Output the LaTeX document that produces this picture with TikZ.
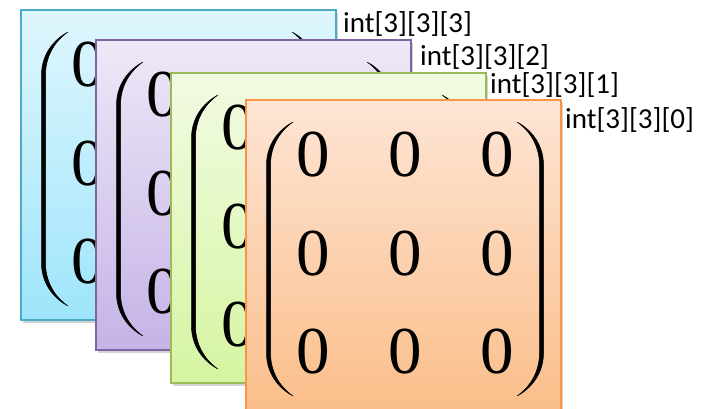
\documentclass[tikz,border=0pt]{standalone}
\usepackage{fontspec}
\newfontfamily\calibri{Carlito}
\newfontfamily\timesf{Liberation Serif}
\usetikzlibrary{shadows,calc}
\tikzset{
  card/.style={anchor=north west, minimum width=315pt, minimum height=310pt,
    line width=1.8pt, inner sep=0pt,
    drop shadow={shadow xshift=2pt, shadow yshift=-3pt, opacity=0.25, fill=black!70}},
  zero/.style={font=\fontsize{67}{67}\selectfont\timesf, inner sep=0pt},
  lbl/.style={font=\fontsize{29}{30}\selectfont\calibri, anchor=base west, inner sep=0pt},
  parenfill/.style={fill=black, draw=black, line width=0.5pt}
}
\newcommand\halfparen{%
  \filldraw[parenfill] (48,23) .. controls (33,31) and (21.5,46) .. (21.5,66)
    -- (21.5,254) .. controls (21.5,274) and (33,289) .. (48,297)
    .. controls (35,288) and (25.5,273) .. (25.5,254)
    -- (25.5,66) .. controls (25.5,47) and (35,32) .. (48,23) -- cycle;}
% #1 card, #2 name prefix, #3 list of visible columns
\newcommand\cardcontent[3]{%
  \begin{scope}[shift={(#1.north west)}]
    \halfparen
    \begin{scope}[xshift=320pt, xscale=-1]\halfparen\end{scope}
    \foreach \r/\yy in {a/56,b/155,c/253}{
      \foreach \c/\xx in {#3}{
        \node[zero] (#2\r\c) at (\xx,\yy) {0};}}
  \end{scope}}
\begin{document}
\begin{tikzpicture}[x=1pt,y=-1pt]
  \useasboundingbox (0,0) rectangle (702,408);
  \node[card, draw={rgb,255:red,75;green,172;blue,198},
        top color={rgb,255:red,223;green,246;blue,253},
        bottom color={rgb,255:red,158;green,229;blue,251}] (c3) at (20,9) {};
  \cardcontent{c3}{t}{1/68}
  \node[card, draw={rgb,255:red,128;green,100;blue,162},
        top color={rgb,255:red,238;green,232;blue,247},
        bottom color={rgb,255:red,197;green,179;blue,230}] (c2) at (95,39) {};
  \cardcontent{c2}{u}{1/68}
  \node[card, draw={rgb,255:red,155;green,187;blue,89},
        top color={rgb,255:red,242;green,251;blue,227},
        bottom color={rgb,255:red,213;green,245;blue,161}] (c1) at (170,72) {};
  \cardcontent{c1}{v}{1/68}
  \node[card, draw={rgb,255:red,247;green,150;blue,70},
        top color={rgb,255:red,253;green,229;blue,213},
        bottom color={rgb,255:red,251;green,190;blue,138}] (c0) at (245,99) {};
  \cardcontent{c0}{w}{1/68,2/160,3/252}
  \node[lbl] (l3) at (343,32) {int[3][3][3]};
  \node[lbl] (l2) at (420,65) {int[3][3][2]};
  \node[lbl] (l1) at (490,93) {int[3][3][1]};
  \node[lbl] (l0) at (565,128) {int[3][3][0]};
\end{tikzpicture}
\end{document}
